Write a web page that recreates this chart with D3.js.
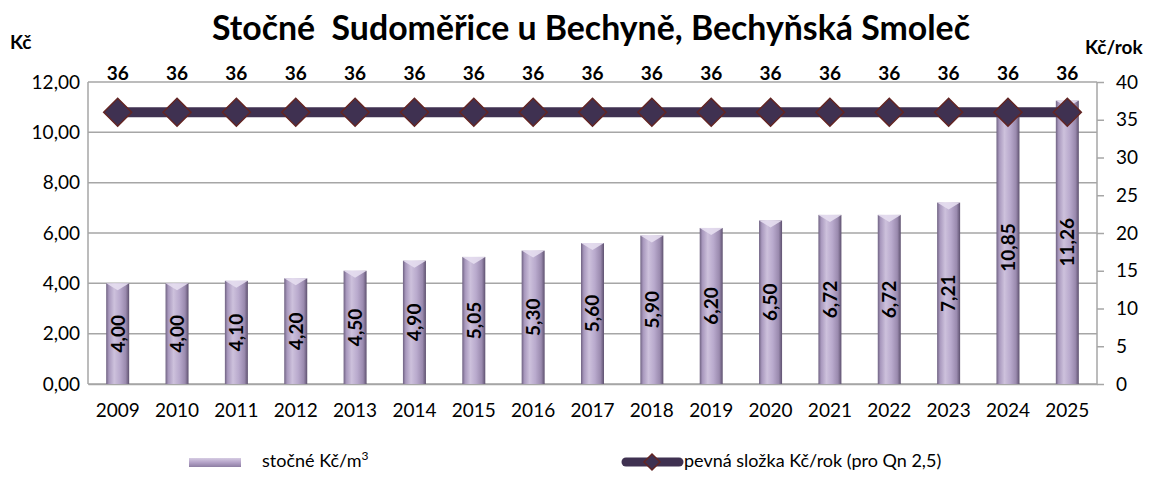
<!DOCTYPE html>
<html><head><meta charset="utf-8">
<script src="https://cdn.jsdelivr.net/npm/d3@7"></script>
<style>body{margin:0;background:#fff}svg{display:block}text{font-family:Lato,"Open Sans",sans-serif;white-space:pre}</style>
</head><body><svg id="c" width="1155" height="479"></svg>
<script>
const years=["2009","2010","2011","2012","2013","2014","2015","2016","2017","2018","2019","2020","2021","2022","2023","2024","2025"];
const stocne=[4.00,4.00,4.10,4.20,4.50,4.90,5.05,5.30,5.60,5.90,6.20,6.50,6.72,6.72,7.21,10.85,11.26];
const pevna=[36,36,36,36,36,36,36,36,36,36,36,36,36,36,36,36,36];
const leftTicks=[0,2,4,6,8,10,12];
const rightTicks=[0,5,10,15,20,25,30,35,40];
const title="Stočné  Sudoměřice u Bechyně, Bechyňská Smoleč";
const seriesNames=["stočné Kč/m","pevná složka Kč/rok (pro Qn 2,5)"];

const svg=d3.select("#c");
const L=88,R=1097,T=82,B=384;
const x=d3.scaleBand().domain(years).range([L,R]).padding(0);
const yL=d3.scaleLinear().domain([0,12]).range([B,T]);
const yR=d3.scaleLinear().domain([0,40]).range([B,T]);
const fmt=v=>d3.format(".2f")(v).replace(".",",");

const defs=svg.append("defs");
const g=defs.append("linearGradient").attr("id","barG").attr("x1","0").attr("x2","1").attr("y1","0").attr("y2","0");
[[0,"#6f6282"],[0.12,"#a898bd"],[0.35,"#cdc1dc"],[0.6,"#b9aacd"],[0.85,"#9a8aae"],[1,"#5e516f"]].forEach(s=>g.append("stop").attr("offset",s[0]).attr("stop-color",s[1]));
const gl=defs.append("linearGradient").attr("id","legG").attr("x1","0").attr("x2","0").attr("y1","0").attr("y2","1");
[[0,"#d6cce3"],[0.5,"#b3a2c7"],[1,"#8d7ea3"]].forEach(s=>gl.append("stop").attr("offset",s[0]).attr("stop-color",s[1]));

// gridlines
svg.append("g").selectAll("line").data(leftTicks).join("line")
 .attr("x1",L).attr("x2",R).attr("y1",d=>yL(d)).attr("y2",d=>yL(d))
 .attr("stroke","#a6a6a6").attr("stroke-width",1.5);
svg.append("line").attr("x1",L).attr("x2",L).attr("y1",T).attr("y2",B).attr("stroke","#a6a6a6").attr("stroke-width",1.5);
svg.append("line").attr("x1",R).attr("x2",R).attr("y1",T).attr("y2",B).attr("stroke","#a6a6a6").attr("stroke-width",1.5);

const ax=d3.axisLeft(yL).tickValues(leftTicks).tickFormat(fmt).tickSize(0).tickPadding(8);
const gL=svg.append("g").attr("transform",`translate(${L},0)`).call(ax);
gL.select(".domain").remove();
gL.selectAll("text").attr("font-size",19).attr("fill","#000").attr("font-family","Lato");
const axR=d3.axisRight(yR).tickValues(rightTicks).tickSize(7).tickPadding(12);
const gR=svg.append("g").attr("transform",`translate(${R},0)`).call(axR);
gR.select(".domain").remove();
gR.selectAll("line").attr("stroke","#a6a6a6").attr("stroke-width",1.5);
gR.selectAll("text").attr("font-size",19).attr("fill","#000").attr("font-family","Lato");
const axX=d3.axisBottom(x).tickSize(0).tickPadding(20);
const gX=svg.append("g").attr("transform",`translate(0,${B})`).call(axX);
gX.select(".domain").attr("stroke","#a6a6a6").attr("stroke-width",1.5);
gX.selectAll("text").attr("font-size",19).attr("fill","#000").attr("font-family","Lato");

const bw=23;
const bars=svg.append("g").selectAll("g").data(years).join("g");
bars.append("rect").attr("x",d=>x(d)+x.bandwidth()/2-bw/2).attr("width",bw)
 .attr("y",(d,i)=>yL(stocne[i])).attr("height",(d,i)=>B-yL(stocne[i])).attr("fill","url(#barG)");
bars.append("path").attr("d",(d,i)=>{const cx=x(d)+x.bandwidth()/2, y0=yL(stocne[i]);return `M${cx-bw/2},${y0}L${cx+bw/2},${y0}L${cx},${y0+7}Z`;})
 .attr("fill","#e6def0").attr("opacity",0.9);
bars.append("text").attr("transform",(d,i)=>`translate(${x(d)+x.bandwidth()/2},${(yL(stocne[i])+B)/2}) rotate(-90)`)
 .attr("text-anchor","middle").attr("dy","0.36em").attr("font-size",19).attr("font-weight","bold").text((d,i)=>fmt(stocne[i]));

const line=d3.line().x((d,i)=>x(years[i])+x.bandwidth()/2).y(d=>yR(d));
svg.append("path").datum(pevna).attr("d",line).attr("fill","none").attr("stroke","#3f3151").attr("stroke-width",10);
const dm=14;
svg.append("g").selectAll("path").data(pevna).join("path")
 .attr("d",(d,i)=>{const cx=x(years[i])+x.bandwidth()/2, cy=yR(d);return `M${cx},${cy-dm}L${cx+dm},${cy}L${cx},${cy+dm}L${cx-dm},${cy}Z`;})
 .attr("fill","#3f3151").attr("stroke","#632523").attr("stroke-width",1.5);
svg.append("g").selectAll("text").data(pevna).join("text")
 .attr("x",(d,i)=>x(years[i])+x.bandwidth()/2).attr("y",d=>yR(d)-32)
 .attr("text-anchor","middle").attr("font-size",19).attr("font-weight","bold").text(d=>d);

const t=svg.append("text").attr("x",591).attr("y",40).attr("text-anchor","middle").attr("font-size",30).attr("font-weight","bold").text(title);
const tw=t.node().getComputedTextLength(); t.attr("font-size",30*758/tw);
svg.append("text").attr("x",10).attr("y",49).attr("font-size",19).attr("font-weight","bold").text("Kč");
svg.append("text").attr("x",1085).attr("y",54).attr("font-size",19).attr("font-weight","bold").text("Kč/rok");

svg.append("rect").attr("x",189).attr("y",458).attr("width",52).attr("height",9).attr("fill","url(#legG)");
const lt=svg.append("text").attr("x",262).attr("y",467).attr("font-size",18).text(seriesNames[0]);
lt.append("tspan").attr("font-size",12).attr("dy",-7).text("3");
svg.append("line").attr("x1",626).attr("x2",679).attr("y1",462).attr("y2",462).attr("stroke","#3f3151").attr("stroke-width",9).attr("stroke-linecap","round");
svg.append("path").attr("d","M652,454L660,462L652,470L644,462Z").attr("fill","#3f3151").attr("stroke","#632523").attr("stroke-width",1.5);
svg.append("text").attr("x",684).attr("y",467).attr("font-size",18).text(seriesNames[1]);
</script></body></html>
